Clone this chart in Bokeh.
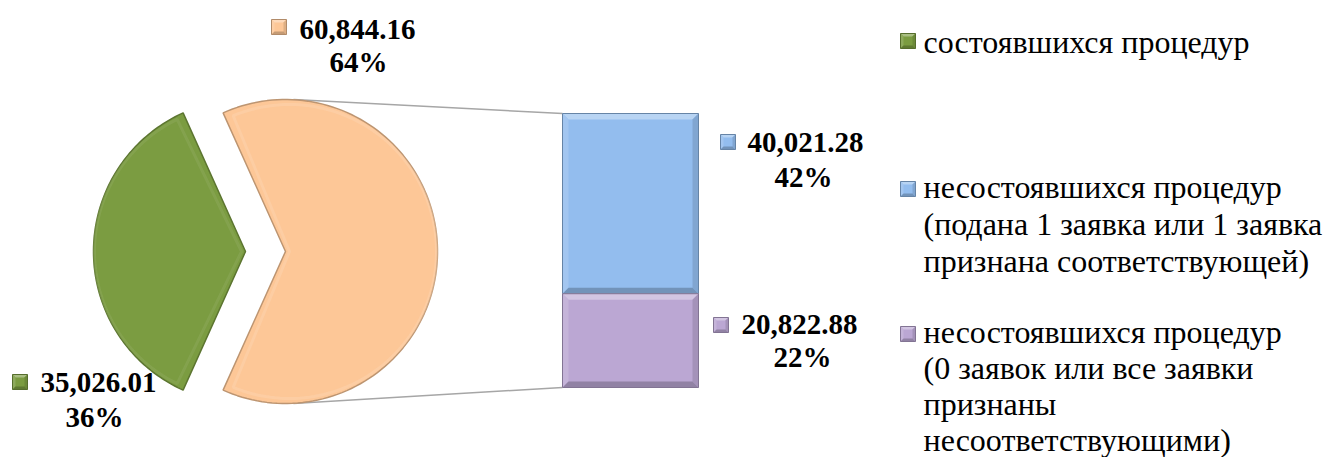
import math
import numpy as np
from bokeh.plotting import figure
from bokeh.models import Range1d
from bokeh.core.properties import value
from bokeh.embed import file_html
from bokeh.resources import INLINE

# ---------------- data ----------------
categories = [
    "состоявшихся процедур",
    "несостоявшихся процедур\n(подана 1 заявка или 1 заявка\nпризнана соответствующей)",
    "несостоявшихся процедур\n(0 заявок или все заявки\nпризнаны\nнесоответствующими)",
]
values = [35026.01, 40021.28, 20822.88]
pct_labels = ["36%", "42%", "22%"]
other_pct_label = "64%"
colors = ["#7B9C41", "#93BDEE", "#BBA7D3"]
other_color = "#FDC797"

other_value = values[1] + values[2]
total = values[0] + other_value

# ---------------- layout (image pixel coordinates) ----------------
W, H = 1326, 457
p = figure(width=W, height=H, x_range=Range1d(0, W), y_range=Range1d(H, 0),
           output_backend="svg", toolbar_location=None, min_border=0,
           x_axis_type=None, y_axis_type=None)
p.grid.visible = False
p.outline_line_color = None
p.background_fill_color = "white"
p.border_fill_color = "white"

TEXT_DY = -11  # baseline correction


def shade(hexc, f):
    h = hexc.lstrip("#")
    r, g, b = int(h[0:2], 16), int(h[2:4], 16), int(h[4:6], 16)
    if f >= 0:
        r, g, b = [int(c + (255 - c) * f) for c in (r, g, b)]
    else:
        r, g, b = [int(c * (1 + f)) for c in (r, g, b)]
    return "#%02x%02x%02x" % (r, g, b)


def wedge_poly(cx, cy, r, a0, a1, n=120):
    a = np.linspace(a0, a1, n)
    xs = [cx] + list(cx + r * np.cos(a)) + [cx]
    ys = [cy] + list(cy - r * np.sin(a)) + [cy]
    return xs, ys


# pie
cx, cy, R, explode = 265, 251, 152, 20
half = math.pi * values[0] / total
gx, gy = wedge_poly(cx - explode, cy, R, math.pi - half, math.pi + half)
ox, oy = wedge_poly(cx + explode, cy, R, -(math.pi - half), math.pi - half)

# connectors
bx0, bx1, btop, bbot = 562, 698, 113, 387
p.line([cx + explode + 8, bx0], [cy - R, btop], line_color="#A6A6A6", line_width=1.5)
p.line([cx + explode + 8, bx0], [cy + R, bbot], line_color="#A6A6A6", line_width=1.5)

for xs, ys, col in [(gx, gy, colors[0]), (ox, oy, other_color)]:
    p.patch(xs, ys, fill_color=col, line_color=shade(col, -0.25), line_width=1.5)

# soft bevel highlight
gx2, gy2 = wedge_poly(cx - explode - 4, cy, R - 5, math.pi - half + 0.03, math.pi + half - 0.03)
ox2, oy2 = wedge_poly(cx + explode + 4, cy, R - 5, -(math.pi - half) + 0.03, math.pi - half - 0.03)
p.patch(gx2, gy2, fill_color=colors[0], line_color=shade(colors[0], 0.2), line_width=3, line_alpha=0.35)
p.patch(ox2, oy2, fill_color=other_color, line_color=shade(other_color, 0.35), line_width=3, line_alpha=0.35)


def bevel_rect(x0, y0, x1, y1, col, b=6):
    p.quad(left=[x0], right=[x1], top=[y0], bottom=[y1], fill_color=col, line_color=None)
    top = ([x0, x1, x1 - b, x0 + b], [y0, y0, y0 + b, y0 + b])
    bot = ([x0, x1, x1 - b, x0 + b], [y1, y1, y1 - b, y1 - b])
    lef = ([x0, x0 + b, x0 + b, x0], [y0, y0 + b, y1 - b, y1])
    rig = ([x1, x1 - b, x1 - b, x1], [y0, y0 + b, y1 - b, y1])
    p.patches([top[0], lef[0], rig[0], bot[0]], [top[1], lef[1], rig[1], bot[1]],
              fill_color=[shade(col, 0.35), shade(col, 0.15), shade(col, -0.12), shade(col, -0.22)],
              line_color=None)
    p.quad(left=[x0], right=[x1], top=[y0], bottom=[y1], fill_color=None,
           line_color=shade(col, -0.3), line_width=1)


# stacked bar (blue on top, purple below)
bh = bbot - btop
y_split = btop + bh * values[1] / other_value
bevel_rect(bx0, btop, bx1, y_split, colors[1])
bevel_rect(bx0, y_split, bx1, bbot, colors[2])

# ---------------- data labels ----------------
lab_font = value("Liberation Serif")


def marker(x, y, col, s=15):
    bevel_rect(x, y, x + s, y + s, col, b=3)


def fmt(v):
    return f"{v:,.2f}"


label_specs = [
    (other_value, other_pct_label, other_color, (271, 19), (357, 40), (358, 72)),
    (values[0], pct_labels[0], colors[0], (12, 374), (98, 393), (94, 427)),
    (values[1], pct_labels[1], colors[1], (720, 134), (805, 153), (803, 187)),
    (values[2], pct_labels[2], colors[2], (713, 317), (799, 335), (802, 367)),
]
for v, pct, col, (mx, my), (vx, vy), (px, py) in label_specs:
    marker(mx, my, col)
    p.text(x=[vx, px], y=[vy + TEXT_DY, py + TEXT_DY], text=[fmt(v), pct], text_font=lab_font,
           text_font_size="29px", text_font_style="bold", text_align="center",
           text_baseline="alphabetic", text_color="black")

# ---------------- legend ----------------
leg_blocks = [(33, [52]), (181, [197, 234, 271]), (326, [342, 378, 414, 450])]
for (my, baselines), cat, col in zip(leg_blocks, categories, colors):
    marker(900, my, col)
    lines = cat.split("\n")
    p.text(x=[923] * len(lines), y=[b + TEXT_DY for b in baselines[:len(lines)]], text=lines,
           text_font=lab_font, text_font_size="32px", text_align="left",
           text_baseline="alphabetic", text_color="black")

open("out.html", "w").write(file_html(p, INLINE))
